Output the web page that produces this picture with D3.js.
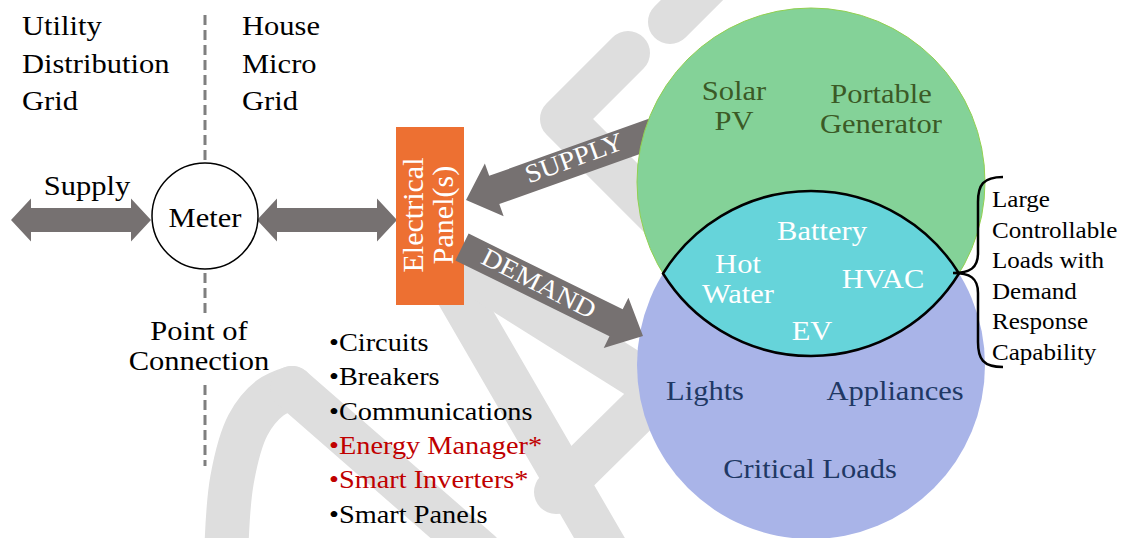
<!DOCTYPE html>
<html>
<head>
<meta charset="utf-8">
<script src="https://cdn.jsdelivr.net/npm/d3@7"></script>
<style>
  body { margin: 0; background: #fff; }
</style>
</head>
<body>
<div id="chart"></div>
<script>
// labels of the diagram
let utilityLines = ['Utility', 'Distribution', 'Grid']
let houseLines = ['House', 'Micro', 'Grid']
let connectionLines = ['Point of', 'Connection']
let panelLines = ['Electrical', 'Panel(s)']
let panelItems = ['Circuits', 'Breakers', 'Communications', 'Energy Manager*', 'Smart Inverters*', 'Smart Panels']
let panelItemRed = [false, false, false, true, true, false]
let supplyLabels = [['Solar', 'PV'], ['Portable', 'Generator']]
let sharedLabels = [['Battery'], ['Hot', 'Water'], ['HVAC'], ['EV']]
let demandLabels = [['Lights'], ['Appliances'], ['Critical Loads']]
let braceLines = ['Large', 'Controllable', 'Loads with', 'Demand', 'Response', 'Capability']

let width = 1123
let height = 538

let svg = d3
  .select('#chart')
  .append('svg')
  .attr('width', width)
  .attr('height', height)
  .attr('font-family', 'Liberation Serif, Times New Roman, serif')

let gray = '#767171'
// the source font runs a bit wider than Liberation Serif
let sx = 1.09

// faint "DRAFT" watermark pieces behind everything
let line = d3.line().curve(d3.curveLinear)
let curved = d3.line().curve(d3.curveCatmullRom)
let mark = svg.append('g')
  .attr('fill', 'none')
  .attr('stroke', '#dedede')
  .attr('stroke-width', 44)
  .attr('stroke-linejoin', 'round')
  .attr('stroke-linecap', 'round')
mark.append('path').attr('d', curved([[226, 560], [232, 480], [248, 425], [270, 398], [292, 388]]))
mark.append('path').attr('d', line([[292, 388], [480, 552]]))
mark.append('path').attr('d', line([[430, 246], [618, 570]]))
mark.append('path').attr('d', line([[430, 246], [720, 428]]))
mark.append('path').attr('d', line([[556, 492], [690, 360]]))
mark.append('path').attr('d', line([[628, 53], [562, 119], [720, 277]]))
mark.append('path').attr('d', line([[670, 22], [750, -58]]))

// arrow shape along x axis, then rotated into place
function arrowPath(x1, y1, x2, y2, shaft, head, headLen, both) {
  let len = Math.hypot(x2 - x1, y2 - y1)
  let s = shaft / 2
  let h = head / 2
  let pts = []
  if (both) {
    pts = [[0, 0], [headLen, -h], [headLen, -s], [len - headLen, -s], [len - headLen, -h], [len, 0],
      [len - headLen, h], [len - headLen, s], [headLen, s], [headLen, h]]
  } else {
    pts = [[0, -s], [len - headLen, -s], [len - headLen, -h], [len, 0], [len - headLen, h], [len - headLen, s], [0, s]]
  }
  return 'M' + pts.map(p => p.join(',')).join('L') + 'Z'
}

function drawArrow(x1, y1, x2, y2, shaft, head, headLen, both) {
  let angle = Math.atan2(y2 - y1, x2 - x1) * 180 / Math.PI
  svg
    .append('path')
    .attr('transform', `translate(${x1}, ${y1}) rotate(${angle})`)
    .attr('d', arrowPath(x1, y1, x2, y2, shaft, head, headLen, both))
    .attr('fill', gray)
}

// one stretched text line
function label(g, str, x, y, anchor, rot) {
  return g.append('text')
    .attr('transform', `translate(${x}, ${y}) rotate(${rot || 0}) scale(${sx}, 1)`)
    .attr('text-anchor', anchor)
    .text(str)
}

function lines(g, arr, x, y, step, anchor) {
  arr.forEach((d, i) => label(g, d, x, y + i * step, anchor))
}

// dividing line at the point of connection
let dash = svg.append('g')
  .attr('stroke', '#7f7f7f')
  .attr('stroke-width', 3)
  .attr('stroke-dasharray', '10,5')
dash.append('line').attr('x1', 205).attr('x2', 205).attr('y1', 15).attr('y2', 162)
dash.append('line').attr('x1', 205).attr('x2', 205).attr('y1', 273).attr('y2', 318)
dash.append('line').attr('x1', 205).attr('x2', 205).attr('y1', 385).attr('y2', 466)

let topText = svg.append('g').style('font-size', '28px').attr('fill', '#000')
lines(topText, utilityLines, 22, 35, 37.5, 'start')
lines(topText, houseLines, 242, 35, 37.5, 'start')
lines(topText, connectionLines, 199, 340, 30, 'middle')
label(topText, 'Supply', 87, 195, 'middle')

// grid and meter arrows
drawArrow(11, 220, 151, 220, 24, 43, 20, true)
drawArrow(257, 220, 397, 220, 24, 43, 20, true)

// meter
svg.append('circle')
  .attr('cx', 205).attr('cy', 216).attr('r', 53)
  .attr('fill', '#fff').attr('stroke', '#000').attr('stroke-width', 1.5)
let meterText = svg.append('g').style('font-size', '28px').attr('fill', '#000')
label(meterText, 'Meter', 205, 227, 'middle')

// supply arrow runs under the circle
drawArrow(665, 129, 466, 200, 30, 56, 30, false)

// electrical panel
svg.append('rect')
  .attr('x', 396).attr('y', 127).attr('width', 68).attr('height', 178)
  .attr('fill', '#ed7032')
let panel = svg.append('g')
  .attr('transform', 'translate(430, 215) rotate(-90)')
  .attr('fill', '#fff')
  .style('font-size', '30px')
panel.selectAll('text')
  .data(panelLines)
  .enter()
  .append('text')
  .attr('x', 0)
  .attr('y', (d, i) => -7 + i * 30)
  .attr('text-anchor', 'middle')
  .text(d => d)

// bullet list under the panel
let list = svg.append('g').style('font-size', '26px')
panelItems.forEach((d, i) => {
  label(list, '\u2022' + d, 329, 351 + i * 34.3, 'start')
    .attr('fill', panelItemRed[i] ? '#c00000' : '#000')
})

// supply and demand circles
let cx = 811
let rr = 174
let gy = 182
let by = 365
svg.append('circle').attr('cx', cx).attr('cy', gy).attr('r', rr)
  .attr('fill', '#84d298').attr('stroke', '#92d050').attr('stroke-width', 1)
svg.append('circle').attr('cx', cx).attr('cy', by).attr('r', rr)
  .attr('fill', '#a9b4e8')

// overlap lens
let half = (by - gy) / 2
let chord = Math.sqrt(rr * rr - half * half)
let lx1 = cx - chord
let lx2 = cx + chord
let ly = gy + half
svg.append('path')
  .attr('d', `M${lx1},${ly}A${rr},${rr} 0 0 1 ${lx2},${ly}A${rr},${rr} 0 0 1 ${lx1},${ly}Z`)
  .attr('fill', '#66d4da')
  .attr('stroke', '#000')
  .attr('stroke-width', 2.5)

// demand arrow points onto the circle
drawArrow(462, 247, 643, 336, 30, 56, 30, false)

let arrowText = svg.append('g').attr('fill', '#fff').style('font-size', '26px')
label(arrowText, 'SUPPLY', 577, 166, 'middle', -20)
label(arrowText, 'DEMAND', 535, 291, 'middle', 27)

let supplyPos = [[734, 100], [881, 103]]
let sharedPos = [[822, 240], [738, 273], [883, 288], [812, 340]]
let demandPos = [[705, 400], [895, 400], [810, 478]]

function labelGroup(labels, pos, color, size) {
  labels.forEach((arr, i) => {
    let g = svg.append('g').attr('fill', color).style('font-size', size)
    lines(g, arr, pos[i][0], pos[i][1], 30, 'middle')
  })
}
labelGroup(supplyLabels, supplyPos, '#3b5a26', '28px')
labelGroup(sharedLabels, sharedPos, '#fff', '28px')
labelGroup(demandLabels, demandPos, '#203864', '28px')

// brace for the controllable loads
let bx = 953
let bt = 177
let bb = 367
let bm = 273
svg.append('path')
  .attr('d', `M1003,${bt}C983,${bt} 978,${bt + 8} 978,${bt + 25}L978,${bm - 20}C978,${bm - 5} 970,${bm} ${bx},${bm}` +
    `C970,${bm} 978,${bm + 5} 978,${bm + 20}L978,${bb - 25}C978,${bb - 8} 983,${bb} 1003,${bb}`)
  .attr('fill', 'none')
  .attr('stroke', '#000')
  .attr('stroke-width', 2.5)

let brace = svg.append('g').style('font-size', '23px')
lines(brace, braceLines, 992, 207, 30.6, 'start')
</script>
</body>
</html>
